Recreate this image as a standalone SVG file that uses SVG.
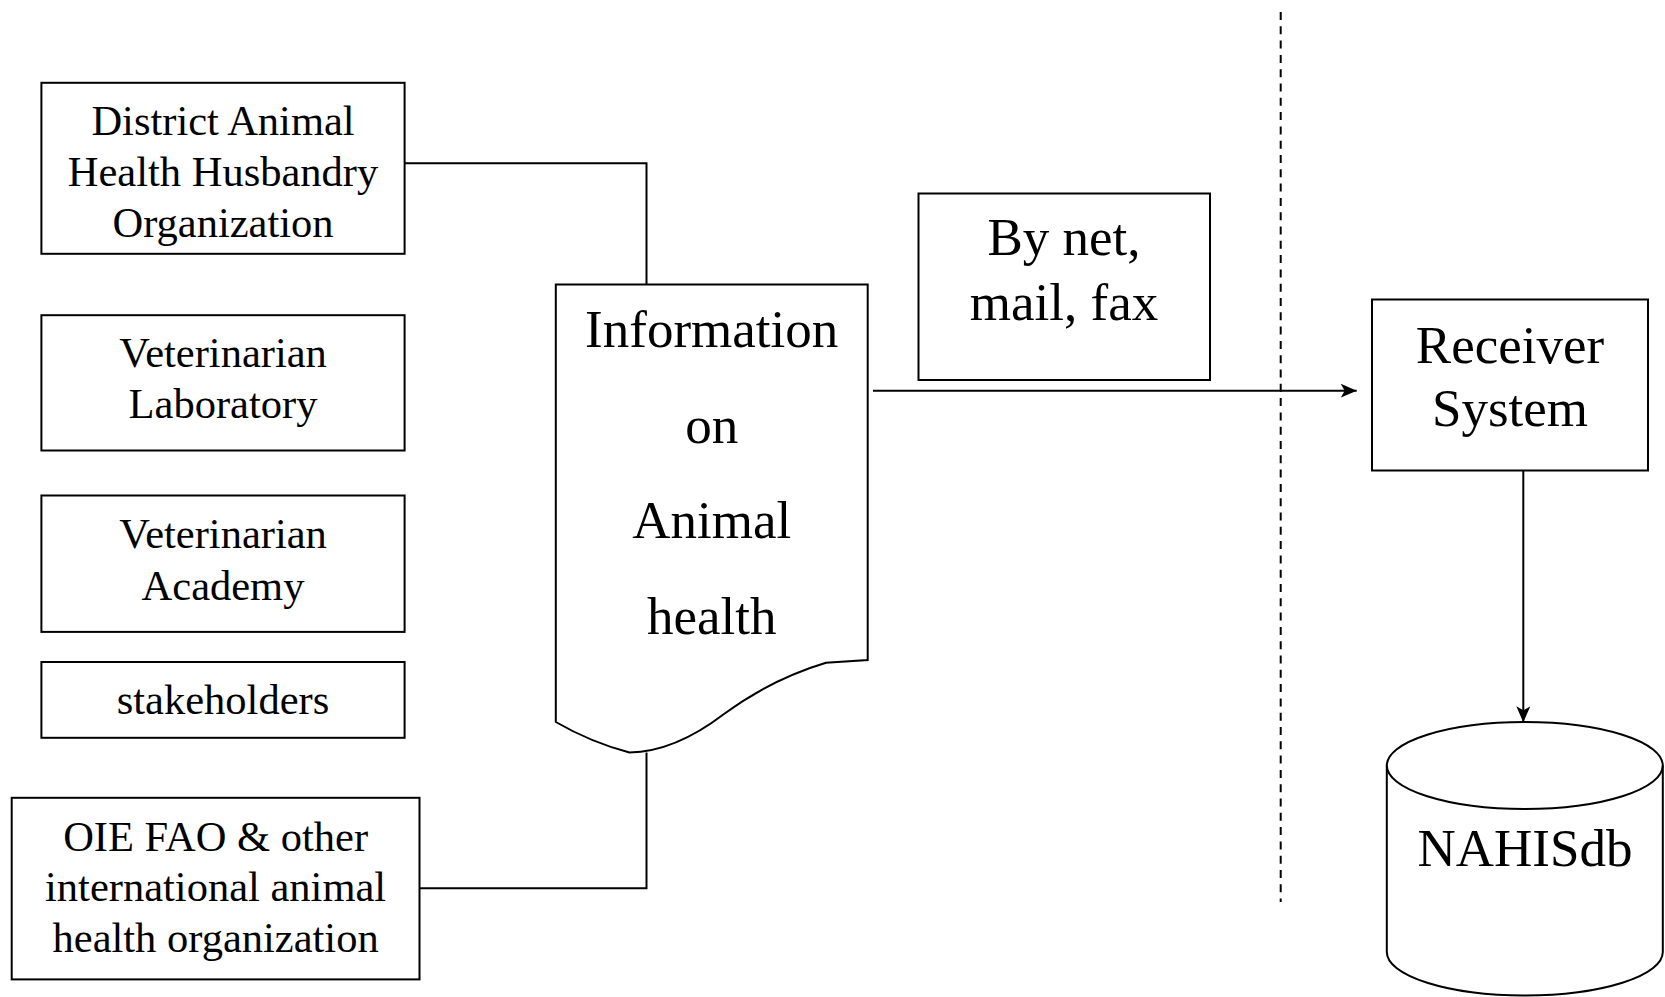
<svg xmlns="http://www.w3.org/2000/svg" width="1665" height="997" viewBox="0 0 1665 997">
<style>
.box{fill:#fff;stroke:#000;stroke-width:2}
.ln{fill:none;stroke:#000;stroke-width:2}
.t{font-family:"Liberation Serif","Times New Roman",serif;fill:#000;text-anchor:middle}
.s{font-size:42.5px}
.b{font-size:53px}
</style>
<defs>
<marker id="ah" viewBox="0 0 16 14" refX="16" refY="7" markerWidth="16" markerHeight="14" markerUnits="userSpaceOnUse" orient="auto">
<path d="M0,0 L16,7 L0,14 L4,7 Z" fill="#000"/>
</marker>
</defs>
<rect width="1665" height="997" fill="#fff"/>
<g id="connectors">
<polyline class="ln" points="404.6,163.3 646.5,163.3 646.5,284.5"/>
<polyline class="ln" points="646.5,752.5 646.5,888.3 419.5,888.3"/>
<line class="ln" x1="873" y1="390.7" x2="1356.7" y2="390.7" marker-end="url(#ah)"/>
<line class="ln" x1="1523.3" y1="465" x2="1523.3" y2="722.3" marker-end="url(#ah)"/>
<line x1="1280.7" y1="12" x2="1280.7" y2="902" stroke="#000" stroke-width="2" stroke-dasharray="8,6.3"/>
</g>
<g id="district">
<rect class="box" x="41.4" y="82.8" width="363.2" height="171"/>
<text class="t s" x="223" y="135">District Animal</text>
<text class="t s" x="223" y="186">Health Husbandry</text>
<text class="t s" x="223" y="236.7">Organization</text>
</g>
<g id="vetlab">
<rect class="box" x="41.4" y="315.2" width="363.2" height="135.3"/>
<text class="t s" x="223" y="366.7">Veterinarian</text>
<text class="t s" x="223" y="418">Laboratory</text>
</g>
<g id="vetacademy">
<rect class="box" x="41.4" y="495.5" width="363.2" height="136.4"/>
<text class="t s" x="223" y="547.6">Veterinarian</text>
<text class="t s" x="223" y="599.8">Academy</text>
</g>
<g id="stakeholders">
<rect class="box" x="41.4" y="662" width="363.2" height="75.8"/>
<text class="t s" x="223" y="713.8">stakeholders</text>
</g>
<g id="oie">
<rect class="box" x="11.7" y="797.8" width="407.8" height="181.6"/>
<text class="t s" x="215.6" y="850.7">OIE FAO &amp; other</text>
<text class="t s" x="215.6" y="901">international animal</text>
<text class="t s" x="215.6" y="951.7">health organization</text>
</g>
<g id="information">
<path class="box" d="M555.8,284.5 H867.7 V660 L826,662.7 C795,672 762,686 724,714 C690,740 660,752 629.5,752.5 C605,746 580,736 555.8,722 Z"/>
<text class="t b" x="711.7" y="346.7">Information</text>
<text class="t b" x="711.7" y="442.7">on</text>
<text class="t b" x="711.7" y="538">Animal</text>
<text class="t b" x="711.7" y="633.5">health</text>
</g>
<g id="bynet">
<rect class="box" x="918.5" y="193.5" width="291.5" height="186.5"/>
<text class="t b" x="1064" y="255">By net,</text>
<text class="t b" x="1064" y="320">mail, fax</text>
</g>
<g id="receiver">
<rect class="box" x="1372" y="299.5" width="276" height="171"/>
<text class="t b" x="1510" y="363">Receiver</text>
<text class="t b" x="1510" y="426">System</text>
</g>
<g id="nahisdb">
<path class="box" d="M1386.8,765.5 A138,43.5 0 0 1 1662.8,765.5 V952 A138,43.5 0 0 1 1386.8,952 Z"/>
<path class="ln" d="M1386.8,765.5 A138,43.5 0 0 0 1662.8,765.5"/>
<text class="t b" x="1525" y="865.5">NAHISdb</text>
</g>
</svg>
